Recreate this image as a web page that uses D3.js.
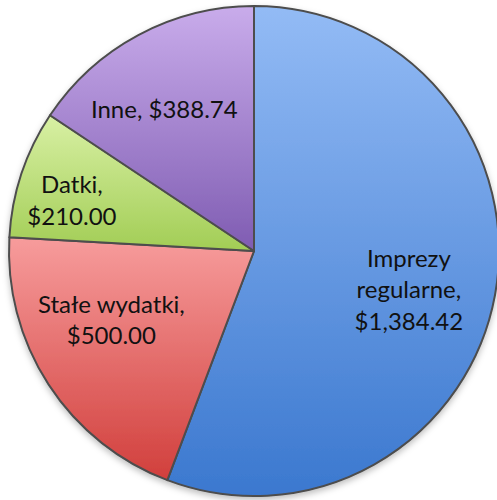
<!DOCTYPE html>
<html>
<head>
<meta charset="utf-8">
<script src="https://cdn.jsdelivr.net/npm/d3@7"></script>
<style>
  html, body { margin: 0; padding: 0; background: #ffffff; }
  svg { display: block; }
</style>
</head>
<body>
<div id="chart"></div>
<script>
// data
const categories = ['Imprezy regularne', 'Stałe wydatki', 'Datki', 'Inne']
const amounts = [1384.42, 500.00, 210.00, 388.74]
const labelLines = [
  ['Imprezy', 'regularne,', '$1,384.42'],
  ['Stałe wydatki,', '$500.00'],
  ['Datki,', '$210.00'],
  ['Inne, $388.74']
]

// styling
const gradTop = ['#93bbf5', '#f79c9c', '#d8f0a4', '#c9aceb']
const gradBottom = ['#3b78cf', '#d13f3c', '#a2cd55', '#7f5cb2']
// nudges from the centroid, like Excel's best fit
const labelNudge = [[-9, 9], [-3, -22], [-24, 2], [-11, 5.5]]

const width = 497
const height = 500
const cx = 254
const cy = 251
const radius = 245

const svg = d3.select('#chart')
  .append('svg')
  .attr('width', width)
  .attr('height', height)

const defs = svg.append('defs')

// soft shadow under the pie
const shadow = defs.append('filter')
  .attr('id', 'shadow')
  .attr('x', '-10%').attr('y', '-10%')
  .attr('width', '120%').attr('height', '125%')
shadow.append('feDropShadow')
  .attr('dx', 0).attr('dy', 3)
  .attr('stdDeviation', 3)
  .attr('flood-color', '#000')
  .attr('flood-opacity', 0.25)

categories.forEach((c, i) => {
  const g = defs.append('linearGradient')
    .attr('id', `grad-${i}`)
    .attr('x1', 0).attr('y1', 0)
    .attr('x2', 0).attr('y2', 1)
  g.append('stop').attr('offset', '0%').attr('stop-color', gradTop[i])
  g.append('stop').attr('offset', '100%').attr('stop-color', gradBottom[i])
})

const pie = d3.pie()
  .sort(null)
  .value((d) => d)

const arcs = pie(amounts)

const arc = d3.arc()
  .innerRadius(0)
  .outerRadius(radius)

const labelArc = d3.arc()
  .innerRadius(radius * 0.68)
  .outerRadius(radius * 0.68)

const chart = svg.append('g')
  .attr('transform', `translate(${cx},${cy})`)

chart.append('g')
  .attr('filter', 'url(#shadow)')
  .selectAll('path')
  .data(arcs)
  .join('path')
  .attr('d', arc)
  .attr('fill', (d, i) => `url(#grad-${i})`)
  .attr('stroke', '#4d4d4d')
  .attr('stroke-width', 2)
  .attr('stroke-linejoin', 'round')

const lineHeight = 31.5
const labels = chart.append('g')
  .attr('font-family', 'Lato, "Open Sans", sans-serif')
  .attr('font-size', 24)
  .attr('fill', '#111')
  .attr('text-anchor', 'middle')

labels.selectAll('text')
  .data(arcs)
  .join('text')
  .each(function (d, i) {
    const [x, y] = labelArc.centroid(d)
    const lines = labelLines[i]
    const x0 = x + labelNudge[i][0]
    const y0 = y + labelNudge[i][1] - (lines.length - 1) * lineHeight / 2 + 8.5
    d3.select(this)
      .selectAll('tspan')
      .data(lines)
      .join('tspan')
      .attr('x', x0)
      .attr('y', (t, k) => y0 + k * lineHeight)
      .text((t) => t)
  })
</script>
</body>
</html>
